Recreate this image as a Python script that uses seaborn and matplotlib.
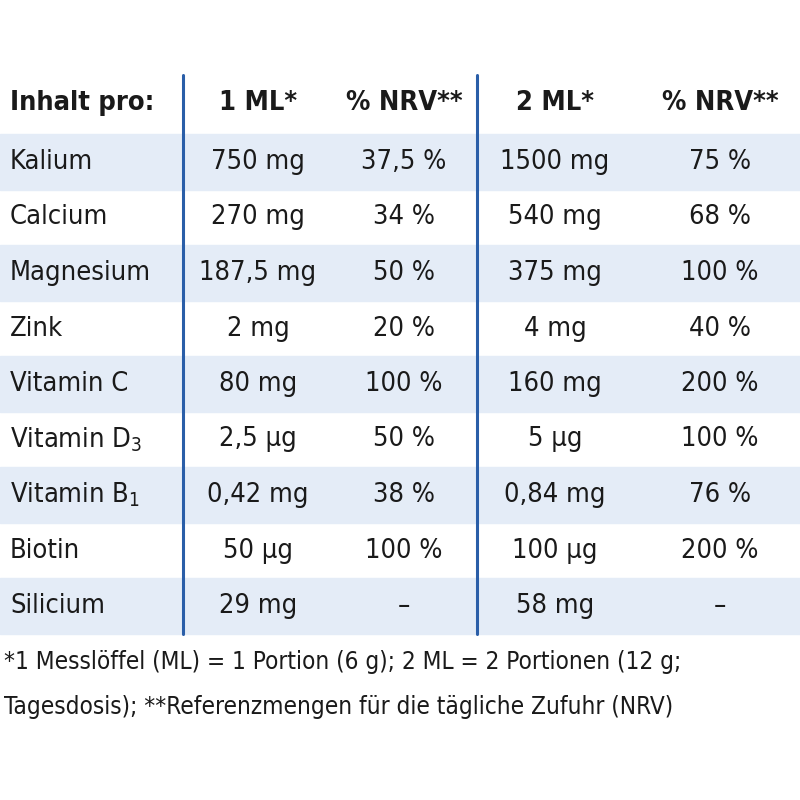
import matplotlib.pyplot as plt
import seaborn as sns

header = ["Inhalt pro:", "1 ML*", "% NRV**", "2 ML*", "% NRV**"]
naehrstoffe = ["Kalium", "Calcium", "Magnesium", "Zink", "Vitamin C",
               "Vitamin D$_3$", "Vitamin B$_1$", "Biotin", "Silicium"]
menge_1ml = ["750 mg", "270 mg", "187,5 mg", "2 mg", "80 mg", "2,5 µg", "0,42 mg", "50 µg", "29 mg"]
nrv_1ml = ["37,5 %", "34 %", "50 %", "20 %", "100 %", "50 %", "38 %", "100 %", "–"]
menge_2ml = ["1500 mg", "540 mg", "375 mg", "4 mg", "160 mg", "5 µg", "0,84 mg", "100 µg", "58 mg"]
nrv_2ml = ["75 %", "68 %", "100 %", "40 %", "200 %", "100 %", "76 %", "200 %", "–"]
fussnote = ["*1 Messlöffel (ML) = 1 Portion (6 g); 2 ML = 2 Portionen (12 g;",
            "Tagesdosis); **Referenzmengen für die tägliche Zufuhr (NRV)"]

sns.set_theme(style="white")
plt.rcParams['font.family'] = ['DejaVu Sans']
plt.rcParams['font.stretch'] = 'condensed'
plt.rcParams['mathtext.fontset'] = 'custom'
plt.rcParams['mathtext.rm'] = 'DejaVu Sans:stretch=condensed'

fig = plt.figure(figsize=(8, 8), dpi=100)
ax = fig.add_axes([0, 0, 1, 1])
ax.set_xlim(0, 800)
ax.set_ylim(800, 0)
ax.axis('off')

col_x = [258, 404, 555, 720]
row_h = 55.5
y0 = 162
txt = '#1a1a1a'
fs = 19.5

ax.text(10, 103, header[0], fontsize=fs, fontweight='bold', va='center', color=txt)
for x, h in zip(col_x, header[1:]):
    ax.text(x, 103, h, fontsize=fs, fontweight='bold', va='center', ha='center', color=txt)

cols = [menge_1ml, nrv_1ml, menge_2ml, nrv_2ml]
for i, name in enumerate(naehrstoffe):
    y = y0 + i * row_h
    if i % 2 == 0:
        ax.axhspan(y - row_h / 2, y + row_h / 2, color='#e4ecf7', zorder=0)
    ax.text(10, y, name, fontsize=fs, va='center', color=txt)
    for x, c in zip(col_x, cols):
        ax.text(x, y, c[i], fontsize=fs, va='center', ha='center', color=txt)

for x in (183, 477):
    ax.plot([x, x], [75, y0 + 8.5 * row_h], color='#2a5ea8', lw=2.2)

ax.text(4, 662, fussnote[0], fontsize=17.5, va='center', color=txt)
ax.text(4, 707, fussnote[1], fontsize=17.5, va='center', color=txt)

fig.savefig('out.png', dpi=100, facecolor='white')
